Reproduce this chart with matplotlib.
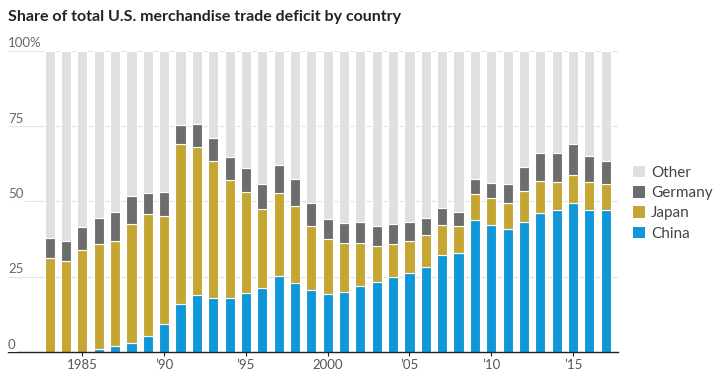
import matplotlib
matplotlib.use("Agg")
import matplotlib.pyplot as plt
import numpy as np
from matplotlib.patches import Patch

plt.rcParams["font.family"] = ["Lato", "DejaVu Sans"]

# Share of total U.S. merchandise trade deficit (%), cumulative tops
years = list(range(1983, 2018))
china = [0.0, 0.0, 0.0, 1.1, 1.9, 2.9, 5.2, 9.2, 15.8, 18.8, 17.8, 17.8, 19.5, 21.4, 25.1,
         22.8, 20.5, 19.2, 19.8, 21.8, 23.1, 24.8, 26.1, 28.1, 32.1, 32.8, 43.7, 42.0, 40.7,
         43.1, 46.0, 47.0, 49.4, 47.0, 47.0]
japan_top = [31.3, 30.2, 33.8, 35.7, 36.8, 42.4, 45.7, 45.0, 69.2, 68.0, 63.3, 57.0, 53.0,
             47.4, 52.7, 48.4, 41.7, 37.4, 36.1, 36.1, 35.2, 35.7, 36.7, 38.7, 42.0, 41.7,
             52.4, 51.0, 49.4, 53.4, 56.7, 56.3, 58.7, 56.3, 55.7]
germany_top = [37.9, 37.0, 41.6, 44.6, 46.3, 51.7, 52.7, 53.2, 75.5, 75.8, 71.0, 64.6, 61.2,
               55.9, 61.9, 57.5, 49.6, 44.1, 42.7, 43.3, 41.9, 42.4, 43.0, 44.4, 47.7, 46.6,
               57.5, 56.2, 55.9, 61.5, 66.2, 66.2, 69.0, 65.2, 63.5]

yticks = [0, 25, 50, 75, 100]
ytick_labels = ["0", "25", "50", "75", "100%"]
xticks = [1985, 1990, 1995, 2000, 2005, 2010, 2015]
xtick_labels = ["1985", "\u201990", "\u201995", "2000", "\u201905", "\u201910", "\u201915"]

colors = {"China": "#0f97d8", "Japan": "#c6a633", "Germany": "#6d6d6d", "Other": "#dfe0e2"}

china = np.array(china)
japan = np.array(japan_top) - china
germany = np.array(germany_top) - np.array(japan_top)
other = 100 - np.array(germany_top)

fig = plt.figure(figsize=(7.14, 3.78), dpi=100)
ax = fig.add_axes([8 / 714, 1 - 352 / 378, 610 / 714, (352 - 50.7) / 378])

w = 0.62
kw = dict(width=w, edgecolor="white", linewidth=0.8, zorder=2)
ax.bar(years, china, color=colors["China"], **kw)
ax.bar(years, japan, bottom=china, color=colors["Japan"], **kw)
ax.bar(years, germany, bottom=china + japan, color=colors["Germany"], **kw)
ax.bar(years, other, bottom=china + japan + germany, color=colors["Other"], **kw)

ax.set_xlim(1980.45, 2017.75)
ax.set_ylim(0, 100)

for s in ["top", "right", "left"]:
    ax.spines[s].set_visible(False)
ax.spines["bottom"].set_color("#222222")
ax.spines["bottom"].set_linewidth(1.0)
ax.spines["bottom"].set_zorder(3)

ax.set_yticks([])
for v, lab in zip(yticks, ytick_labels):
    if v > 0:
        ax.axhline(v, color="#e4e4e4", linewidth=0.8, zorder=1)
    ax.text(0.0, v + 0.4, lab, transform=ax.get_yaxis_transform(), ha="left", va="bottom",
            fontsize=9.5, color="#666666", zorder=4,
            bbox=dict(facecolor="white", edgecolor="none", pad=1.0))

ax.set_xticks(xticks)
ax.set_xticklabels(xtick_labels)
ax.tick_params(axis="x", length=3, width=0.8, color="#222222", labelsize=9.5,
               labelcolor="#555555", pad=2)

handles = [Patch(facecolor=colors[k], edgecolor="none") for k in ["Other", "Germany", "Japan", "China"]]
fig.legend(handles, ["Other", "Germany", "Japan", "China"], loc="upper left",
           bbox_to_anchor=(619 / 714, 1 - 152 / 378), frameon=False, fontsize=11,
           handlelength=0.8, handleheight=0.8, handletextpad=0.4, labelspacing=0.4,
           labelcolor="#444444")

fig.text(8 / 714, 1 - 17 / 378, "Share of total U.S. merchandise trade deficit by country",
         fontsize=11.5, fontweight="bold", color="#222222", ha="left", va="center")

fig.savefig("out.png", dpi=100)
